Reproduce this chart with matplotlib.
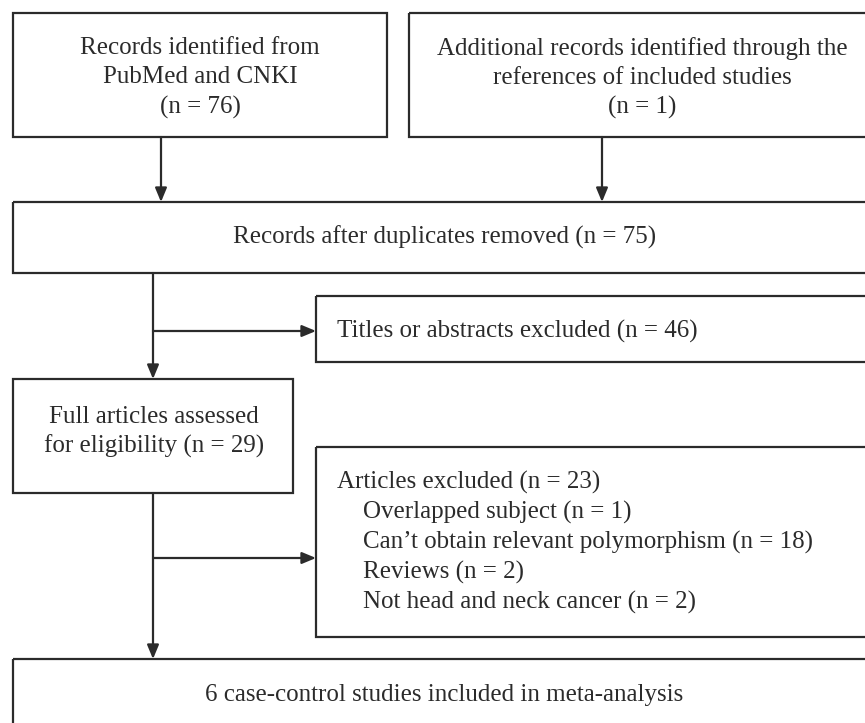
import matplotlib.pyplot as plt
from matplotlib.patches import Rectangle

plt.rcParams['font.family'] = ['Liberation Serif', 'DejaVu Serif']

# box texts
top_left = "Records identified from\nPubMed and CNKI\n(n = 76)"
top_right = "Additional records identified through the\nreferences of included studies\n(n = 1)"
after_dup = "Records after duplicates removed (n = 75)"
titles_excl = "Titles or abstracts excluded (n = 46)"
full_art = "Full articles assessed\nfor eligibility (n = 29)"
excl_head = "Articles excluded (n = 23)"
excl_items = ["Overlapped subject (n = 1)",
              "Can\u2019t obtain relevant polymorphism (n = 18)",
              "Reviews (n = 2)",
              "Not head and neck cancer (n = 2)"]
final = "6 case-control studies included in meta-analysis"

W, H = 865, 723
fig = plt.figure(figsize=(W / 100, H / 100), dpi=100)
ax = fig.add_axes([0, 0, 1, 1])
ax.set_xlim(0, W)
ax.set_ylim(H, 0)
ax.axis('off')

col = '#2b2b2b'
lw = 1.6
fs = 18
ls = 1.42


def box(x0, y0, x1, y1):
    ax.add_patch(Rectangle((x0, y0), x1 - x0, y1 - y0, fill=False,
                           edgecolor=col, linewidth=lw))


def arrow(x0, y0, x1, y1):
    ax.annotate('', xy=(x1, y1), xytext=(x0, y0),
                arrowprops=dict(arrowstyle='-|>,head_length=0.6,head_width=0.25',
                                color=col, lw=lw,
                                mutation_scale=14, shrinkA=0, shrinkB=0))


# boxes
box(13, 13, 387, 137)
box(409, 13, 870, 137)
box(13, 202, 870, 273)
box(316, 296, 870, 362)
box(13, 379, 293, 493)
box(316, 447, 870, 637)
box(13, 659, 870, 740)

# texts
ax.text(200, 78, top_left, ha='center', va='center', fontsize=fs,
        color=col, linespacing=ls)
ax.text(642, 78, top_right, ha='center', va='center', fontsize=fs,
        color=col, linespacing=ls)
ax.text(445, 237, after_dup, ha='center', va='center', fontsize=fs, color=col)
ax.text(337, 331, titles_excl, ha='left', va='center', fontsize=fs, color=col)
ax.text(154, 432, full_art, ha='center', va='center', fontsize=fs,
        color=col, linespacing=ls)
ax.text(337, 482, excl_head, ha='left', va='center', fontsize=fs, color=col)
for i, item in enumerate(excl_items):
    ax.text(363, 512 + 30 * i, item, ha='left', va='center', fontsize=fs,
            color=col)
ax.text(444, 695, final, ha='center', va='center', fontsize=fs, color=col)

# connectors
arrow(161, 137, 161, 202)
arrow(602, 137, 602, 202)
arrow(153, 273, 153, 379)
arrow(153, 331, 316, 331)
arrow(153, 493, 153, 659)
arrow(153, 558, 316, 558)

fig.savefig('out.png', dpi=100)
